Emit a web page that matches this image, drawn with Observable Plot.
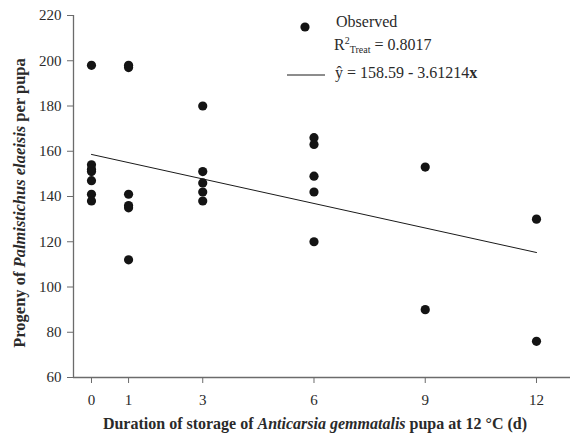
<!DOCTYPE html>
<html>
<head>
<meta charset="utf-8">
<script src="https://cdn.jsdelivr.net/npm/d3@7"></script>
<script src="https://cdn.jsdelivr.net/npm/@observablehq/plot@0.6"></script>
<style>
  html, body { margin: 0; padding: 0; background: white; }
  #chart { position: relative; width: 571px; height: 433px; }
</style>
</head>
<body>
<div id="chart"></div>
<script>
// ---- data ----
const storageDays = [0,0,0,0,0,0,0, 1,1,1,1,1,1, 3,3,3,3,3, 6,6,6,6,6, 9,9, 12,12];
const progeny     = [198,154,152,151,147,141,138, 198,197,141,136,135,112, 180,151,146,142,138, 166,163,149,142,120, 153,90, 130,76];
const xTicks = [0, 1, 3, 6, 9, 12];
const yTicks = [60, 80, 100, 120, 140, 160, 180, 200, 220];
const intercept = 158.59;
const slope = -3.61214;
const fitDays = [0, 12];
const r2 = "0.8017";

const xDomain = [-0.485, 12.917];
const yDomain = [60, 220];

const points = storageDays.map((d, i) => ({x: d, y: progeny[i]}));
const fit = fitDays.map(d => ({x: d, y: intercept + slope * d}));

const axisColor = "#6b6b6b";
const textColor = "#2a2a2a";
const font = "'Liberation Serif', 'Times New Roman', serif";

const chart = Plot.plot({
  width: 571,
  height: 433,
  marginTop: 15,
  marginLeft: 73,
  marginRight: 1,
  marginBottom: 56,
  style: {fontFamily: font, fontSize: "15px", background: "white", color: textColor},
  x: {domain: xDomain},
  y: {domain: yDomain},
  marks: [
    Plot.ruleY([yDomain[0]], {stroke: axisColor, strokeWidth: 1.3}),
    Plot.ruleX([xDomain[0]], {stroke: axisColor, strokeWidth: 1.3}),
    Plot.axisX({ticks: xTicks, tickSize: 6, tickPadding: 11, label: null, stroke: axisColor, fill: textColor, tickFormat: d => String(d)}),
    Plot.axisY({ticks: yTicks, tickSize: 6, tickPadding: 6, label: null, stroke: axisColor, fill: textColor, tickFormat: d => String(d)}),
    Plot.line(fit, {x: "x", y: "y", stroke: "#1a1a1a", strokeWidth: 1}),
    Plot.dot(points, {x: "x", y: "y", r: 4.6, fill: "#141414", stroke: "none"})
  ]
});
document.getElementById("chart").appendChild(chart);

const svg = d3.select(chart);

// x-axis title
const xt = svg.append("text")
  .attr("x", 315).attr("y", 429)
  .attr("text-anchor", "middle")
  .attr("font-family", font).attr("font-size", 16).attr("font-weight", "bold")
  .attr("fill", textColor);
xt.append("tspan").text("Duration of storage of ");
xt.append("tspan").attr("font-style", "italic").text("Anticarsia gemmatalis");
xt.append("tspan").text(" pupa at 12 °C (d)");

// y-axis title
const yt = svg.append("text")
  .attr("transform", "translate(25,203) rotate(-90)")
  .attr("text-anchor", "middle")
  .attr("font-family", font).attr("font-size", 16.5).attr("font-weight", "bold")
  .attr("fill", textColor);
yt.append("tspan").text("Progeny of ");
yt.append("tspan").attr("font-style", "italic").text("Palmistichus elaeisis");
yt.append("tspan").text(" per pupa");

// legend
const lg = svg.append("g").attr("font-family", font).attr("font-size", 16)
  .attr("fill", textColor).attr("text-anchor", "start");
lg.append("circle").attr("cx", 305).attr("cy", 27).attr("r", 4.6).attr("fill", "#141414");
lg.append("text").attr("x", 336).attr("y", 27).text("Observed");
const r2t = lg.append("text").attr("x", 334).attr("y", 50);
r2t.append("tspan").text("R");
r2t.append("tspan").attr("font-size", 10).attr("dy", -6).text("2");
r2t.append("tspan").attr("font-size", 10).attr("dy", 9).text("Treat");
r2t.append("tspan").attr("dy", -3).text(" = " + r2);
lg.append("line").attr("x1", 287).attr("x2", 325).attr("y1", 75).attr("y2", 75)
  .attr("stroke", "#1a1a1a").attr("stroke-width", 1);
const eq = lg.append("text").attr("x", 335).attr("y", 78);
eq.append("tspan").text("ŷ = " + intercept.toFixed(2) + " - " + Math.abs(slope).toFixed(5));
eq.append("tspan").attr("font-weight", "bold").text("x");
</script>
</body>
</html>
